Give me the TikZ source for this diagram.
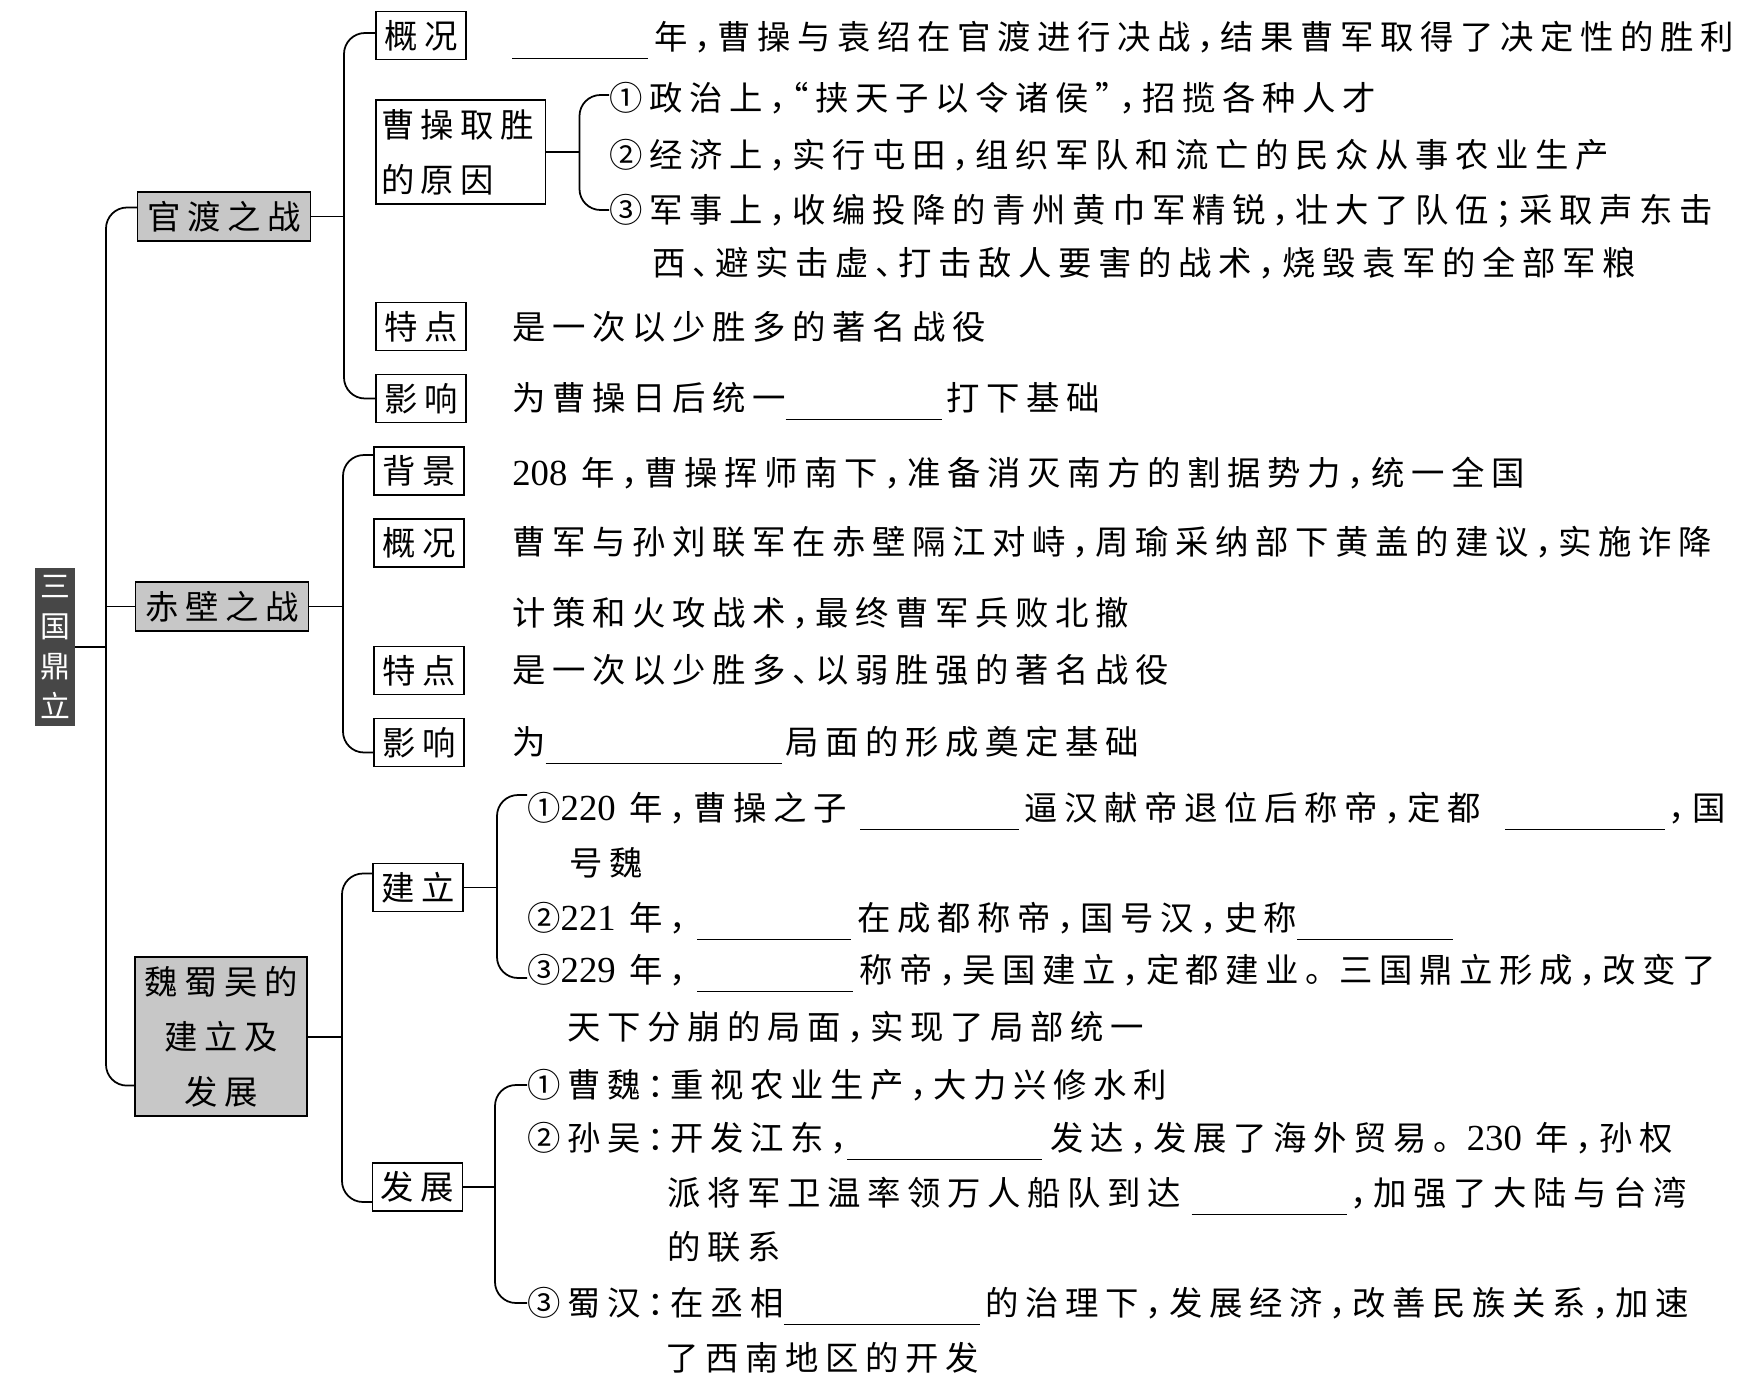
\documentclass[tikz,border=0pt]{standalone}
\usepackage{fontspec}
\newfontfamily\cjk{Noto Sans CJK SC}[LetterSpace=19.8,RawFeature=+halt]
\newfontfamily\numfont{Liberation Serif}[Scale=1.1]

\newcommand{\blank}[1]{\rule[-0.27em]{#1}{0.5pt}}
\newcommand{\yearnum}[1]{{\numfont #1}\hspace{0.28cm}}
\newcommand{\juhao}{。\hspace{9.5pt}}

\begin{document}
\begin{tikzpicture}[
    x=0.02cm, y=-0.02cm,
    font=\cjk\fontsize{19}{23}\selectfont,
    conn/.style={line width=1pt, rounded corners=0.42cm},
    txt/.style={
        anchor=west,
        inner sep=0pt,
        text height=16.7pt,
        text depth=2.3pt
    },
    boxline/.style={draw, line width=0.7pt, inner sep=0pt},
    tagbox/.style={
        boxline,
        minimum width=1.8cm,
        minimum height=0.96cm,
        text height=16.7pt,
        text depth=2.3pt
    },
    topbox/.style={
        boxline,
        fill=topcol,
        minimum width=3.45cm,
        minimum height=0.98cm,
        text height=16.7pt,
        text depth=2.3pt
    },
    rootbox/.style={
        fill=rootcol,
        text=white,
        minimum width=0.8cm,
        minimum height=3.18cm,
        inner sep=0pt,
        align=center,
        font=\cjk\fontsize{17}{22.8}\selectfont
    }
]

\colorlet{topcol}{black!22}
\colorlet{rootcol}{black!72}

\useasboundingbox (0,0) rectangle (1749,1383);

% root and the three battles / states
\node[rootbox] (root) at (55,647) {三\\国\\鼎\\立};
\node[topbox] (gd) at (224,216.5) {官渡之战};
\node[topbox] (cb) at (222,606.5) {赤壁之战};
\node[boxline, fill=topcol, minimum width=3.44cm, minimum height=3.18cm,
    align=center, font=\cjk\fontsize{19}{31.3}\selectfont] (wsw) at (221,1036.5)
    {魏蜀吴的\\建立及\\发展};

\coordinate (main) at (106,647);
\draw[conn] (root.east) -- (main);
\draw[conn] ([yshift=0.18cm]gd.west) -| (main) |- ([yshift=0.62cm]wsw.south west);
\draw[conn] (main |- cb.west) -- (cb.west);

% guandu
\node[tagbox] (gd-gk) at (421,35.5) {概况};
\node[boxline, minimum width=3.39cm, minimum height=2.08cm, inner xsep=0.1cm,
    text width=3.19cm, align=left, font=\cjk\fontsize{19}{31.3}\selectfont]
    (gd-yy) at (460.75,152) {曹操取胜\\的原因};
\node[tagbox] (gd-td) at (421,326.5) {特点};
\node[tagbox] (gd-yx) at (421,398.5) {影响};

\coordinate (gd-br) at (344,216.5);
\draw[conn] (gd.east) -- (gd-br);
\draw[conn] ([yshift=0.05cm]gd-gk.west) -| (gd-br) |- (gd-yx.west);

\node[txt] (gd-gk-t) at (512,37)
    {\blank{2.72cm}\hspace{0.12cm}年，曹操与袁绍在官渡进行决战，结果曹军取得了决定性的胜利};

\coordinate (yy-br) at (579.5,152);
\node[txt] (yy1) at (609,98) {①政治上，“挟天子以令诸侯”，招揽各种人才};
\node[txt] (yy2) at (609,155) {②经济上，实行屯田，组织军队和流亡的民众从事农业生产};
\node[txt] (yy3) at (609,210) {③军事上，收编投降的青州黄巾军精锐，壮大了队伍；采取声东击};
\node[txt] (yy3b) at (652,263) {西、避实击虚、打击敌人要害的战术，烧毁袁军的全部军粮};
\draw[conn] (gd-yy.east) -- (yy-br);
\draw[conn] ([yshift=0.06cm]yy1.west) -| (yy-br) |- (yy3.west);

\node[txt] (gd-td-t) at (512,327) {是一次以少胜多的著名战役};
\node[txt] (gd-yx-t) at (512,398) {为曹操日后统一\blank{3.12cm}\hspace{0.1cm}打下基础};

% chibi
\node[tagbox] (cb-bj) at (419,471) {背景};
\node[tagbox] (cb-gk) at (419,543) {概况};
\node[tagbox] (cb-td) at (419,670.5) {特点};
\node[tagbox] (cb-yx) at (419,742.5) {影响};

\coordinate (cb-br) at (343,606.5);
\draw[conn] (cb.east) -- (cb-br);
\draw[conn] ([yshift=0.32cm]cb-bj.west) -| (cb-br) |- ([yshift=-0.2cm]cb-yx.west);

\node[txt] (cb-bj-t) at (512,473)
    {\yearnum{208}年，曹操挥师南下，准备消灭南方的割据势力，统一全国};
\node[txt] (cb-gk-t) at (512,542)
    {曹军与孙刘联军在赤壁隔江对峙，周瑜采纳部下黄盖的建议，实施诈降};
\node[txt] (cb-gk-t2) at (512,613) {计策和火攻战术，最终曹军兵败北撤};
\node[txt] (cb-td-t) at (512,670) {是一次以少胜多、以弱胜强的著名战役};
\node[txt] (cb-yx-t) at (512,742) {为\blank{4.72cm}\hspace{0.08cm}局面的形成奠定基础};

% wei shu wu
\node[tagbox] (jl) at (418,887.5) {建立};
\node[tagbox] (fz) at (417.5,1187) {发展};

\coordinate (wsw-br) at (342,1037);
\draw[conn] (wsw.east |- wsw-br) -- (wsw-br);
\draw[conn] ([yshift=0.28cm]jl.west) -| (wsw-br) |- ([yshift=-0.3cm]fz.west);

\coordinate (jl-br) at (497,887.5);
\node[txt] (jl1) at (527,808)
    {①\yearnum{220}年，曹操之子\hspace{0.28cm}\blank{3.18cm}\hspace{0.1cm}逼汉献帝退位后称帝，定都\hspace{0.48cm}\blank{3.2cm}\hspace{0.08cm}，国};
\node[txt] (jl1b) at (569,863) {号魏};
\node[txt] (jl2) at (527,918)
    {②\yearnum{221}年，\hspace{0.22cm}\blank{3.08cm}\hspace{0.12cm}在成都称帝，国号汉，史称\blank{3.12cm}};
\node[txt] (jl3) at (527,970)
    {③\yearnum{229}年，\hspace{0.22cm}\blank{3.12cm}\hspace{0.12cm}称帝，吴国建立，定都建业\juhao 三国鼎立形成，改变了};
\node[txt] (jl3b) at (567,1027) {天下分崩的局面，实现了局部统一};
\draw[conn] (jl.east) -- (jl-br);
\draw[conn] ([yshift=0.26cm]jl1.west) -| (jl-br) |- ([yshift=-0.16cm]jl3.west);

\coordinate (fz-br) at (495,1187);
\node[txt] (fz1) at (527,1085) {①曹魏：重视农业生产，大力兴修水利};
\node[txt] (fz2) at (527,1138)
    {②孙吴：开发江东，\blank{3.9cm}\hspace{0.16cm}发达，发展了海外贸易\juhao\yearnum{230}年，孙权};
\node[txt] (fz2b) at (667,1193) {派将军卫温率领万人船队到达\hspace{0.22cm}\blank{3.1cm}\hspace{0.08cm}，加强了大陆与台湾};
\node[txt] (fz2c) at (667,1247) {的联系};
\node[txt] (fz3) at (527,1303)
    {③蜀汉：在丞相\blank{3.92cm}\hspace{0.12cm}的治理下，发展经济，改善民族关系，加速};
\node[txt] (fz3b) at (665,1358) {了西南地区的开发};
\draw[conn] (fz.east) -- (fz-br);
\draw[conn] (fz1.west) -| (fz-br) |- (fz3.west);

\end{tikzpicture}
\end{document}
